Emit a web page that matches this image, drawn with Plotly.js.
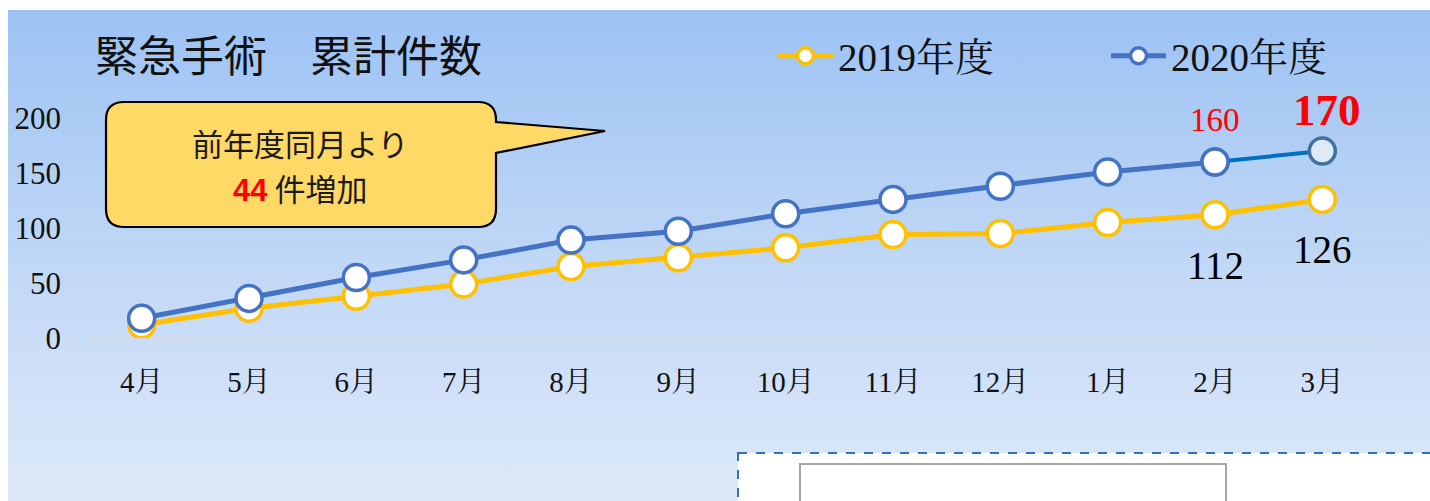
<!DOCTYPE html>
<html>
<head>
<meta charset="utf-8">
<script src="https://cdn.plot.ly/plotly-3.0.1.min.js"></script>
<style>
html,body{margin:0;padding:0;background:#fff;width:1430px;height:501px;overflow:hidden;}
#bg{position:absolute;left:8px;top:10px;width:1422px;height:491px;
 background:linear-gradient(to bottom,#9cc2f4 0%,#b9d3f5 40%,#cfe0f8 75%,#dde9fa 100%);}
#chart{position:absolute;left:0;top:0;width:1430px;height:501px;}
</style>
</head>
<body>
<div id="bg"></div>
<div id="chart"></div>
<script>
// ---- data ----
const months = ["4月","5月","6月","7月","8月","9月","10月","11月","12月","1月","2月","3月"];
const y2019 = [12,27,38,49,65,73,82,94,95,105,112,126];
const y2020 = [18,36,55,71,89,97,113,126,138,151,160,170];
const seriesNames = ["2019年度","2020年度"];
const titleText = "緊急手術　累計件数";
const calloutLine1 = "前年度同月より";
const increase = y2020[11] - y2019[11];

// ---- geometry helpers (layout only) ----
const W = 1430, H = 501;
const L = 88, R = 54, T = 118, B = 163;
const PW = W - L - R, PH = H - T - B;
const px = x => (x - L) / PW;
const py = y => (H - B - y) / PH;

const serif = "Liberation Serif, 'Noto Serif CJK JP', 'Noto Sans CJK JP', serif";
const sans = "'Noto Sans CJK JP', sans-serif";

const blue = "#4472C4", yellow = "#FFC000";

const traces = [
  {x: months, y: y2019, name: seriesNames[0], type: "scatter", mode: "lines+markers",
   legend: "legend",
   line: {color: yellow, width: 5},
   marker: {size: 26, color: "#ffffff", line: {color: yellow, width: 3.5}},
   hoverinfo: "skip"},
  {x: months.slice(0, 11), y: y2020.slice(0, 11), name: seriesNames[1], type: "scatter", mode: "lines+markers",
   legend: "legend2",
   line: {color: blue, width: 5},
   marker: {size: 26, color: "#ffffff", line: {color: blue, width: 3.5}},
   hoverinfo: "skip"},
  {x: months.slice(10), y: y2020.slice(10), name: seriesNames[1], type: "scatter", mode: "lines+markers",
   showlegend: false, legend: "legend2",
   line: {color: "#0070C0", width: 4},
   marker: {size: 26, color: ["#ffffff", "#deebf7"], line: {color: [blue, "#41719C"], width: 3.5}},
   hoverinfo: "skip"}
];

// callout path
const r = 18, bx0 = 106, bx1 = 496, by0 = 102, by1 = 227;
const P = (x, y) => px(x).toFixed(5) + "," + py(y).toFixed(5);
const calloutPath =
  "M" + P(bx0 + r, by0) + " L" + P(bx1 - r, by0) + " Q" + P(bx1, by0) + " " + P(bx1, by0 + r) +
  " L" + P(bx1, 122) + " L" + P(605, 131) + " L" + P(bx1, 153) +
  " L" + P(bx1, by1 - r) + " Q" + P(bx1, by1) + " " + P(bx1 - r, by1) +
  " L" + P(bx0 + r, by1) + " Q" + P(bx0, by1) + " " + P(bx0, by1 - r) +
  " L" + P(bx0, by0 + r) + " Q" + P(bx0, by0) + " " + P(bx0 + r, by0) + " Z";

const shapes = [
  {type: "path", xref: "paper", yref: "paper", path: calloutPath,
   fillcolor: "#FFD966", line: {color: "#000000", width: 2.2}},
  {type: "rect", xref: "paper", yref: "paper", x0: px(738), x1: px(1440), y0: py(453), y1: py(520),
   fillcolor: "#ffffff", line: {color: "#2E75B6", width: 2, dash: "dash"}},
  {type: "rect", xref: "paper", yref: "paper", x0: px(800), x1: px(1226), y0: py(464), y1: py(520),
   fillcolor: "#ffffff", line: {color: "#A6A6A6", width: 2}}
];

const annotations = [
  {xref: "paper", yref: "paper", x: px(300), y: py(142), text: calloutLine1, showarrow: false,
   font: {family: sans, size: 31, color: "#1a1a1a"}, xanchor: "center", yanchor: "middle"},
  {xref: "paper", yref: "paper", x: px(300), y: py(187),
   text: "<span style=\"color:#ff0000;font-family:'Liberation Sans Narrow','Liberation Sans',sans-serif\"><b>" + increase + "</b></span> 件増加",
   showarrow: false, font: {family: sans, size: 31, color: "#1a1a1a"}, xanchor: "center", yanchor: "middle"},
  {x: months[10], y: y2020[10], text: String(y2020[10]), showarrow: false, yshift: 42,
   font: {family: serif, size: 33, color: "#ff0000"}},
  {x: months[11], y: y2020[11], text: "<b>" + y2020[11] + "</b>", showarrow: false, yshift: 41, xshift: 5,
   font: {family: serif, size: 45, color: "#ff0000"}},
  {x: months[10], y: y2019[10], text: String(y2019[10]), showarrow: false, yshift: -51,
   font: {family: serif, size: 39, color: "#000000"}},
  {x: months[11], y: y2019[11], text: String(y2019[11]), showarrow: false, yshift: -50,
   font: {family: serif, size: 39, color: "#000000"}}
];

const legendBase = {orientation: "h", xref: "paper", yref: "paper", y: py(24),
  xanchor: "left", yanchor: "top", bgcolor: "rgba(0,0,0,0)",
  font: {family: serif, size: 39, color: "#111111"}, itemwidth: 55};

const layout = {
  width: W, height: H,
  margin: {l: L, r: R, t: T, b: B, autoexpand: false},
  paper_bgcolor: "rgba(0,0,0,0)",
  plot_bgcolor: "rgba(0,0,0,0)",
  title: {text: titleText, xref: "container", yref: "container", x: 95 / W, xanchor: "left",
          y: 1 - 57 / H, yanchor: "middle", font: {family: sans, size: 43, color: "#111111"}},
  xaxis: {type: "category", range: [-0.5, 11.5], showgrid: false, showline: false, zeroline: false,
          ticks: "", tickfont: {family: serif, size: 29, color: "#111111"}, ticklabelstandoff: 24,
          fixedrange: true},
  yaxis: {range: [0, 200], tickvals: [0, 50, 100, 150, 200], showgrid: false, showline: false,
          zeroline: true, zerolinecolor: "#D9D9D9", zerolinewidth: 1.5,
          ticks: "", tickfont: {family: serif, size: 31, color: "#111111"}, ticklabelstandoff: 26,
          fixedrange: true},
  showlegend: true,
  legend: Object.assign({}, legendBase, {x: px(773)}),
  legend2: Object.assign({}, legendBase, {x: px(1106)}),
  shapes: shapes,
  annotations: annotations
};

Plotly.newPlot("chart", traces, layout, {displayModeBar: false, staticPlot: true});
</script>
</body>
</html>
